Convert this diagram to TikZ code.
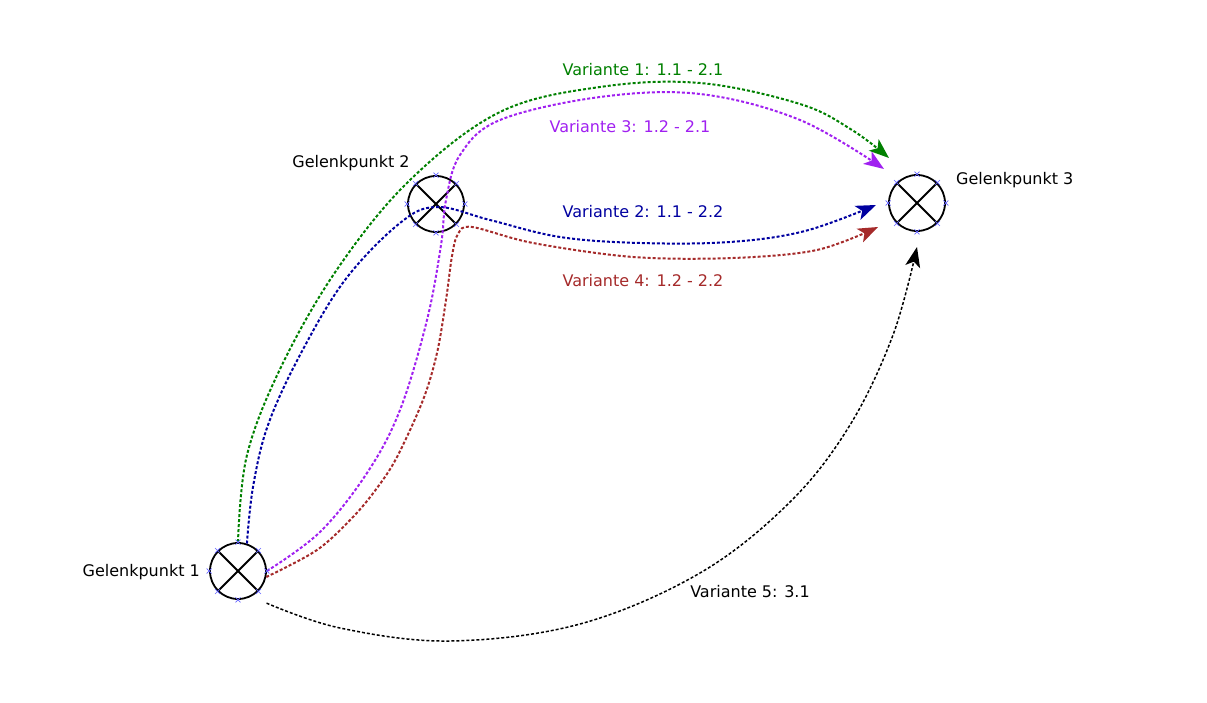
\documentclass[tikz,border=0pt]{standalone}
\usepackage{fontspec}
\setmainfont{DejaVu Sans}
\usetikzlibrary{arrows.meta,calc}
\definecolor{vgreen}{RGB}{0,128,0}
\definecolor{vblue}{RGB}{0,0,160}
\definecolor{vpurple}{RGB}{160,32,240}
\definecolor{vbrown}{RGB}{165,42,42}
\definecolor{cpblue}{RGB}{100,100,255}
\tikzset{
  joint/.style={circle,draw=black,line width=1.8pt,minimum size=56pt,inner sep=0pt},
  jcross/.style={draw=black,line width=1.8pt},
  lbl/.style={font=\fontsize{16}{18}\selectfont,inner sep=0pt},
  var/.style={line width=2pt,dash pattern=on 3pt off 2pt,-{Stealth[length=20pt,width=15pt,inset=5pt]}},
  cpm/.style={draw=cpblue,line width=0.6pt}
}
\newcommand{\cpx}[1]{\draw[cpm] ($(#1)+(-2.5,-2.5)$) -- ($(#1)+(2.5,2.5)$) ($(#1)+(-2.5,2.5)$) -- ($(#1)+(2.5,-2.5)$);}
\begin{document}
\begin{tikzpicture}[x=1pt,y=-1pt]
\useasboundingbox (0,0) rectangle (1207,703);
% nodes
\node[joint] (n1) at (238,571) {};
\node[joint] (n2) at (436,204) {};
\node[joint] (n3) at (917,203) {};
\foreach \n in {n1,n2,n3}{
  \draw[jcross] (\n.45) -- (\n.225);
  \draw[jcross] (\n.135) -- (\n.315);
}
% labels
\node[lbl,anchor=east] (g1) at (200,572) {Gelenkpunkt 1};
\node[lbl] (g2) at (351,163) {Gelenkpunkt 2};
\node[lbl,anchor=west] (g3) at (956,180) {Gelenkpunkt 3};
% arrow end coordinates
\coordinate (t1) at (889,158);
\coordinate (t3) at (884,169);
\coordinate (t2) at (876,205);
\coordinate (t4) at (878,227);
\coordinate (t5) at (917,247);
% Variante 1 (green)
\draw[var,vgreen] plot[smooth,tension=0.6] coordinates {(n1.north) (247,455) (282,365) (338,268) (410,180) (500,112) (600,87) (700,83) (800,104) (852,130) (t1)};
% Variante 2 (blue)
\draw[var,vblue] plot[smooth,tension=0.6] coordinates {(n1.72) (253,487) (268,425) (300,355) (345,280) (400,223) (437,207) (490,220) (560,237) (640,243) (730,242) (805,231) (t2)};
% Variante 3 (purple)
\draw[var,vpurple] plot[smooth,tension=0.6] coordinates {(n1.east) (320,532) (367,473) (400,410) (427,320) (441,245) (446,200) (460,155) (500,120) (600,97) (700,94) (800,120) (t3)};
% Variante 4 (brown)
\draw[var,vbrown] plot[smooth,tension=0.55] coordinates {(n1.-12) (317,550) (353,517) (377,488) (397,457) (423,400) (437,353) (446,300) (452,256) (458,234) (472,227) (533,243) (633,257) (733,258) (817,250) (t4)};
% Variante 5 (black)
\draw[var,black,line width=1.5pt] plot[smooth,tension=0.6] coordinates {($(n1.-50)+(10,10)$) (340,628) (450,641) (580,624) (700,573) (790,502) (850,425) (893,335) (t5)};
% variant labels
\node[lbl,text=vgreen] (l1) at (643,70) {Variante 1: 1.1 - 2.1};
\node[lbl,text=vpurple] (l3) at (630,127) {Variante 3: 1.2 - 2.1};
\node[lbl,text=vblue] (l2) at (643,212) {Variante 2: 1.1 - 2.2};
\node[lbl,text=vbrown] (l4) at (643,281) {Variante 4: 1.2 - 2.2};
\node[lbl] (l5) at (750,592) {Variante 5: 3.1};
% connection point markers
\foreach \n in {n1,n2,n3}{
  \foreach \a in {0,45,...,315}{
    \cpx{\n.\a}
  }
}
\end{tikzpicture}
\end{document}
